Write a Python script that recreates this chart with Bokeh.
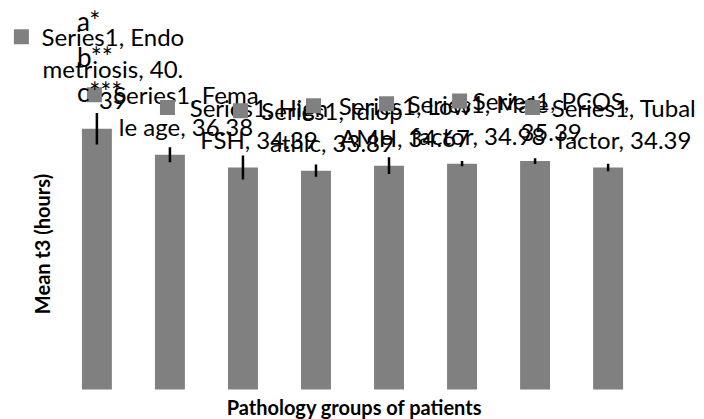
import math
from bokeh.plotting import figure
from bokeh.models import FactorRange, Range1d, ColumnDataSource, Label
from bokeh.transform import dodge
from bokeh.core.properties import value
from bokeh.embed import file_html
from bokeh.resources import INLINE

# ---------------- data ----------------
categories = ["Endometriosis", "Female age", "High FSH", "Idiopathic",
              "Low AMH", "Male factor", "PCOS", "Tubal factor"]
means = [40.39, 36.38, 34.39, 33.89, 34.67, 34.98, 35.39, 34.39]
errors = [2.43, 1.16, 1.86, 0.95, 1.29, 0.41, 0.44, 0.57]
label_lines = [
    ["Series1, Endo", "metriosis, 40.", "39"],
    ["Series1, Fema", "le age, 36.38"],
    ["Series1, High", "FSH, 34.39"],
    ["Series1, Idiop", "athic, 33.89"],
    ["Series1, Low", "AMH, 34.67"],
    ["Series1, Male", "factor, 34.98"],
    ["Series1, PCOS,", "35.39"],
    ["Series1, Tubal", "factor, 34.39"],
]
significance = ["a*", "b**", "c***"]
y_title = "Mean t3 (hours)"
x_title = "Pathology groups of patients"

# ---------------- layout ----------------
W, H = 704, 419
Y0, Y1 = -4.65, 60.26
PAD = 0.82
ppu_y = H / (Y1 - Y0)
ppu_x = W / (len(categories) + 2 * PAD)

BAR = "#808080"
FONT = "Lato"
LABEL_PX, SIG_PX, TITLE_PX = 24, 26, 20
BASELINE_FIX = 0.35    # empirical shift of Bokeh's baseline (in em)
LINE_GAP = 32          # px between label lines
BASE_GAP = 20          # px between last label line baseline and bar top

p = figure(width=W, height=H,
           x_range=FactorRange(factors=categories, range_padding=PAD,
                               range_padding_units="absolute"),
           y_range=Range1d(Y0, Y1),
           x_axis_location=None, y_axis_location=None,
           output_backend="svg", toolbar_location=None, min_border=0)
p.grid.visible = False
p.outline_line_color = None
p.background_fill_color = "white"
p.border_fill_color = "white"

# bars
p.vbar(x=categories, top=means, bottom=0, width=0.41,
       fill_color=BAR, line_color=None)

# error bars
lower = [m - e for m, e in zip(means, errors)]
upper = [m + e for m, e in zip(means, errors)]
p.segment(x0=categories, y0=lower, x1=categories, y1=upper,
          line_color="black", line_width=2.5)

# data labels (text lines + legend-key squares)
tx, ty, tt, toff = [], [], [], []
sq_x, sq_y = [], []
fix = BASELINE_FIX * LABEL_PX
for cat, m, lines in zip(categories, means, label_lines):
    n = len(lines)
    for k, line in enumerate(lines):
        tx.append(cat)
        ty.append(m)
        tt.append(line)
        toff.append(-(BASE_GAP + LINE_GAP * (n - 1 - k)) - fix)
    sq_x.append(cat)
    sq_y.append(m + (BASE_GAP + LINE_GAP * (n - 1) + 8) / ppu_y)

lab_src = ColumnDataSource(dict(x=tx, y=ty, text=tt, yo=toff))
p.text(x="x", y="y", text="text", y_offset="yo", x_offset=16, source=lab_src,
       text_font=value(FONT), text_font_size=f"{LABEL_PX}px", text_color="black",
       text_align="center", text_baseline="alphabetic")

sq_src = ColumnDataSource(dict(x=sq_x, y=sq_y))
p.scatter(x=dodge("x", -75.5 / ppu_x, range=p.x_range), y="y", source=sq_src,
          marker="square", size=15, fill_color=BAR, line_color=None)

# significance letters above first bar
sfix = BASELINE_FIX * SIG_PX
sig_src = ColumnDataSource(dict(
    x=[categories[0]] * len(significance),
    y=[means[0]] * len(significance),
    text=significance,
    yo=[-99 - sfix, -63 - sfix, -28 - sfix]))
p.text(x="x", y="y", text="text", y_offset="yo", x_offset=-20, source=sig_src,
       text_font=value(FONT), text_font_size=f"{SIG_PX}px", text_color="black",
       text_align="left", text_baseline="alphabetic")

# axis titles
p.add_layout(Label(x=41.5, y=H - 243.5, x_units="screen", y_units="screen",
                   text=y_title, angle=math.pi / 2, text_align="center",
                   text_baseline="middle", text_font=FONT,
                   text_font_size=f"{TITLE_PX}px", text_font_style="bold",
                   text_color="black"))
p.add_layout(Label(x=354, y=H - 413 + BASELINE_FIX * TITLE_PX,
                   x_units="screen", y_units="screen",
                   text=x_title, text_align="center",
                   text_baseline="alphabetic", text_font=FONT,
                   text_font_size=f"{TITLE_PX}px", text_font_style="bold",
                   text_color="black"))

open("out.html", "w").write(file_html(p, INLINE))
